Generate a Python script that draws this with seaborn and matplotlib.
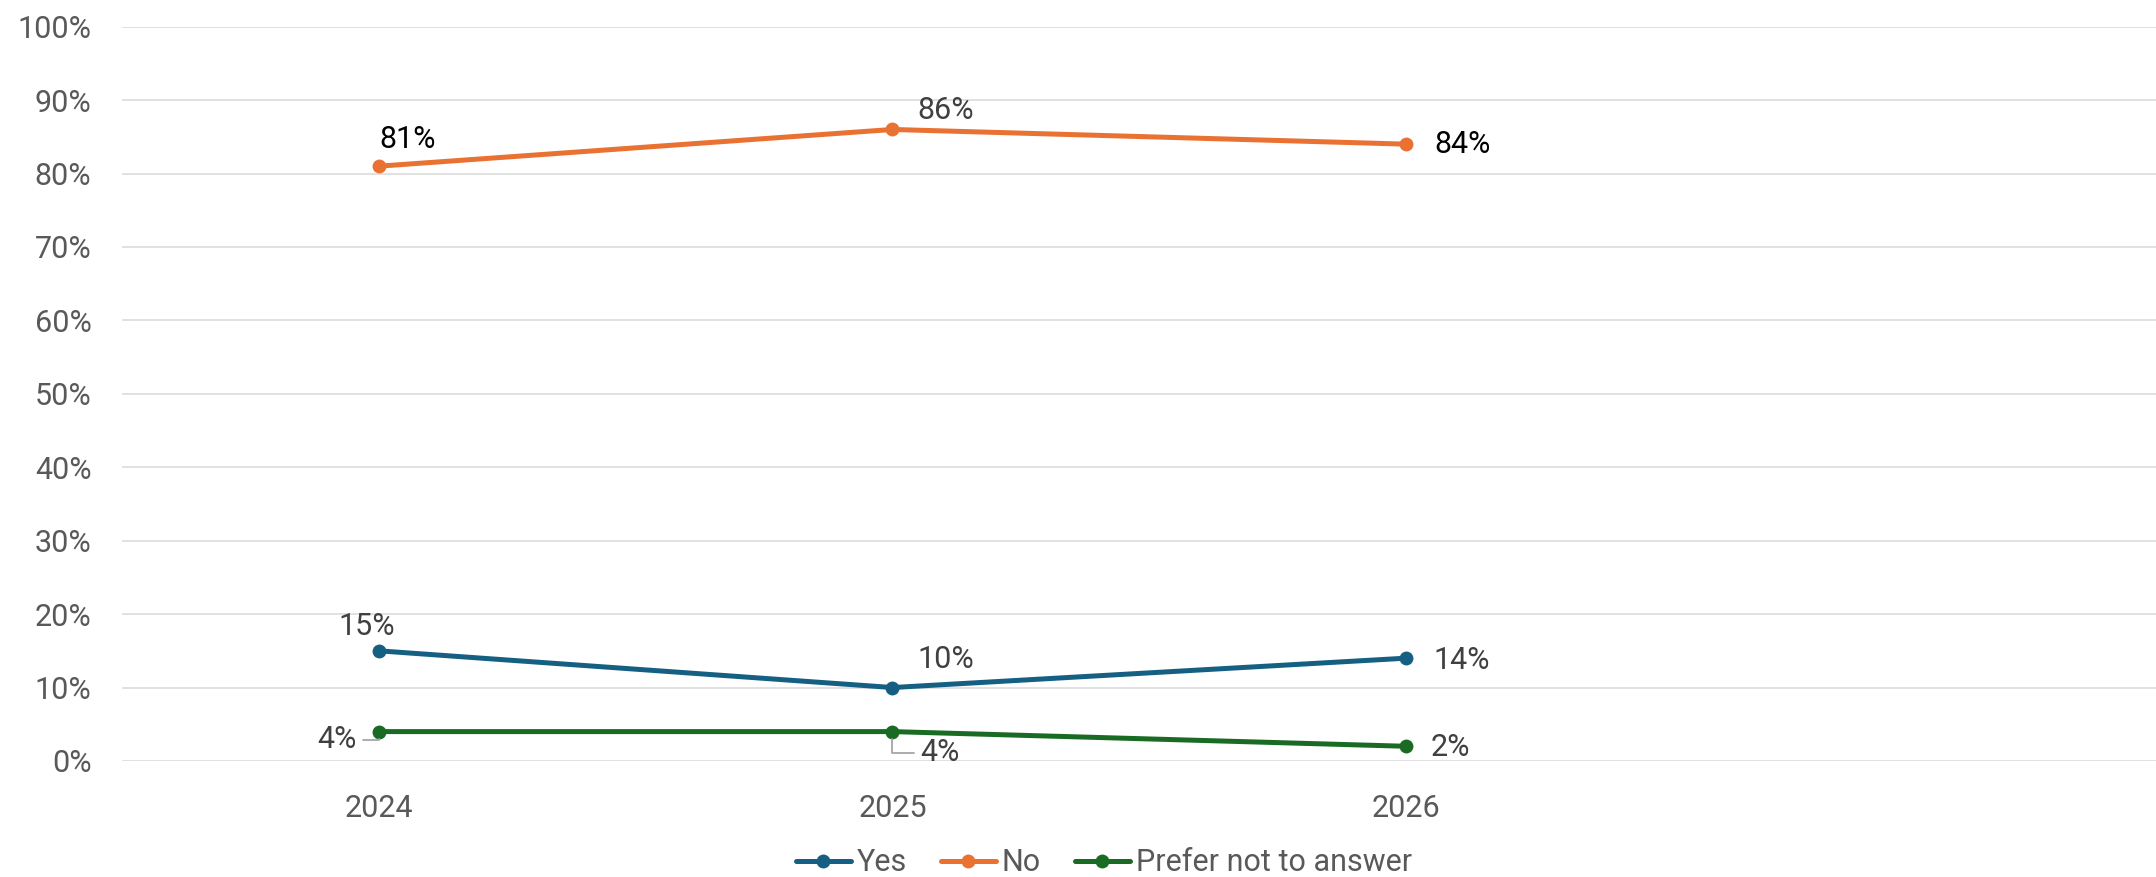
import pandas as pd
import matplotlib.pyplot as plt
import seaborn as sns

# ======================================
# 1. Datos
# ======================================
years = ["2024", "2025", "2026"]
series_names = ["Yes", "No", "Prefer not to answer"]
yes = [15, 10, 14]
no = [81, 86, 84]
prefer_not = [4, 4, 2]
colors = ["#156082", "#E97132", "#196B24"]

df = pd.DataFrame({
    "year": years * 3,
    "value": yes + no + prefer_not,
    "series": [s for s in series_names for _ in years],
})

# ======================================
# 2. Configuración
# ======================================
sns.set_theme(style="white")
plt.rcParams["font.family"] = ["Roboto", "DejaVu Sans"]

fig = plt.figure(figsize=(21.56, 8.77), dpi=100)
ax = fig.add_axes([0.0566, 0.1323, 0.9434, 0.8373])

sns.lineplot(data=df, x="year", y="value", hue="series", hue_order=series_names,
             palette=colors, marker="o", markersize=10, markeredgewidth=0,
             linewidth=3.6, sort=False, ax=ax)

# ======================================
# 3. Ejes
# ======================================
ax.set_ylim(0, 100)
ax.set_xlim(-0.5, 3.46)
ax.set_yticks(range(0, 101, 10))
ax.set_yticklabels([f"{v}%" for v in range(0, 101, 10)])
ax.set_xlabel("")
ax.set_ylabel("")
ax.yaxis.grid(True, color="#D9D9D9", linewidth=1.1)
ax.set_axisbelow(True)
for s in ax.spines.values():
    s.set_visible(False)
ax.tick_params(axis="both", length=0, labelsize=22, labelcolor="#595959")
ax.tick_params(axis="y", pad=22)
ax.tick_params(axis="x", pad=24)

# ======================================
# 4. Etiquetas de datos
# ======================================
label_offsets = {
    "Yes": [(-12, 24), (53, 28), (56, -2)],
    "No": [(29, 27), (53, 19), (56, 0)],
    "Prefer not to answer": [(-42, -8), (47, -21), (44, -1)],
}
label_colors = {
    "Yes": ["#404040", "#404040", "#404040"],
    "No": ["black", "#404040", "black"],
    "Prefer not to answer": ["#404040", "#404040", "#404040"],
}
values = {"Yes": yes, "No": no, "Prefer not to answer": prefer_not}

for name in series_names:
    for i, v in enumerate(values[name]):
        dx, dy = label_offsets[name][i]
        arrow = None
        if name == "Prefer not to answer" and i < 2:
            arrow = dict(arrowstyle="-", color="#A6A6A6", lw=1.3,
                         connectionstyle="angle,angleA=0,angleB=90,rad=0",
                         shrinkA=2, shrinkB=5)
        ax.annotate(f"{v}%", xy=(i, v), xytext=(dx, dy), textcoords="offset pixels",
                    ha="center", va="center", fontsize=22,
                    color=label_colors[name][i], arrowprops=arrow)

# ======================================
# 5. Leyenda
# ======================================
handles, labels = ax.get_legend_handles_labels()
ax.get_legend().remove()
leg = fig.legend(handles, labels, loc="center", bbox_to_anchor=(0.512, 0.016),
                 ncol=3, frameon=False, fontsize=22, handlelength=1.8,
                 handletextpad=0.2, columnspacing=1.1)
for t in leg.get_texts():
    t.set_color("#595959")

fig.savefig("out.png", dpi=100)
